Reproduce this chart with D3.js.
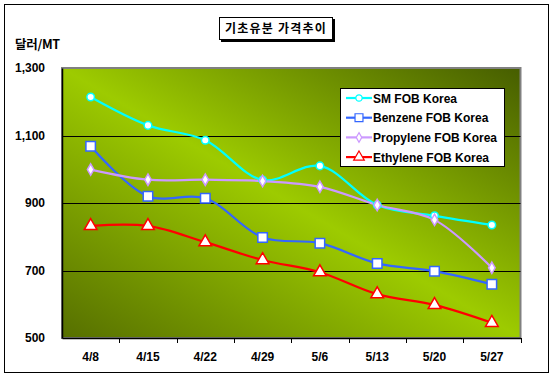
<!DOCTYPE html>
<html><head><meta charset="utf-8">
<script src="https://cdn.jsdelivr.net/npm/d3@7"></script>
<style>body{margin:0;background:#fff}svg{display:block}</style>
</head><body>
<script>
const categories = ["4/8","4/15","4/22","4/29","5/6","5/13","5/20","5/27"];
const seriesNames = ["SM FOB Korea","Benzene FOB Korea","Propylene FOB Korea","Ethylene FOB Korea"];
const smValues = [1214,1130,1086,968,1010,894,862,835];
const benzeneValues = [1068,920,914,798,781,721,698,659];
const propyleneValues = [999,969,969,965,948,894,850,708];
const ethyleneValues = [832,832,784,731,695,630,598,545];
const yTicks = [500,700,900,1100,1300];
const title = "기초유분 가격추이";
const unitLabel = "달러/MT";

const W = 554, H = 378;
const svg = d3.select("body").append("svg").attr("width", W).attr("height", H);
const defs = svg.append("defs");
const grad = defs.append("linearGradient").attr("id","bg")
  .attr("x1","0").attr("y1","1").attr("x2","1").attr("y2","0");
grad.append("stop").attr("offset","0").attr("stop-color","#566f00");
grad.append("stop").attr("offset","0.5").attr("stop-color","#9dcb00");
grad.append("stop").attr("offset","1").attr("stop-color","#465d00");

// outer border
svg.append("rect").attr("x",4.5).attr("y",4.5).attr("width",544).attr("height",368)
  .attr("fill","#fff").attr("stroke","#000").attr("stroke-width",1);

const m = {left:62, top:68, right:520.5, bottom:338};
const x = d3.scaleBand().domain(categories).range([m.left, m.right]);
const y = d3.scaleLinear().domain([500,1300]).range([m.bottom, m.top]);

svg.append("rect").attr("x",m.left).attr("y",m.top).attr("width",m.right-m.left).attr("height",m.bottom-m.top)
  .attr("fill","url(#bg)").attr("stroke","#808080").attr("stroke-width",2);

// gridlines
svg.append("g").selectAll("line").data(yTicks.slice(1,-1)).join("line")
  .attr("x1",m.left).attr("x2",m.right).attr("y1",d=>Math.round(y(d))+0.5).attr("y2",d=>Math.round(y(d))+0.5)
  .attr("stroke","#000").attr("stroke-width",1);

// axes
const yAxis = d3.axisLeft(y).tickValues(yTicks).tickSize(0).tickPadding(17).tickFormat(d3.format(","));
const gy = svg.append("g").attr("transform",`translate(${m.left},0)`).call(yAxis);
gy.select(".domain").attr("stroke","#000").attr("stroke-width",1.5);
gy.selectAll("text").attr("font-family","Liberation Sans, Arial, sans-serif").attr("font-weight","bold").attr("font-size",12).attr("fill","#000");

const xAxis = d3.axisBottom(x).tickSize(0).tickPadding(14);
const gx = svg.append("g").attr("transform",`translate(0,${m.bottom})`).call(xAxis);
gx.select(".domain").attr("stroke","#000").attr("stroke-width",1.5);
gx.selectAll("text").attr("font-family","Liberation Sans, Arial, sans-serif").attr("font-weight","bold").attr("font-size",12).attr("fill","#000");
// boundary ticks
const tickPos = categories.map(c=>x(c)).concat([m.right]);
svg.append("g").selectAll("line").data(tickPos.slice(1)).join("line")
  .attr("x1",d=>Math.round(d)+0.5).attr("x2",d=>Math.round(d)+0.5).attr("y1",m.bottom).attr("y2",m.bottom+5)
  .attr("stroke","#000");

const series = [
  {name:seriesNames[0], values:smValues, color:"#00ffff", marker:"circle"},
  {name:seriesNames[1], values:benzeneValues, color:"#3366ff", marker:"square"},
  {name:seriesNames[2], values:propyleneValues, color:"#cc99ff", marker:"diamond"},
  {name:seriesNames[3], values:ethyleneValues, color:"#ff0000", marker:"triangle"}
];
const symbolType = {circle:d3.symbolCircle, square:d3.symbolSquare, diamond:d3.symbolDiamond, triangle:d3.symbolTriangle};
const symbolSize = {circle:45, square:90, diamond:38, triangle:70};
const cx = c => x(c) + x.bandwidth()/2;
const line = d3.line().x((d,i)=>cx(categories[i])).y(d=>y(d)).curve(d3.curveCatmullRom.alpha(0.5));

series.forEach(s=>{
  svg.append("path").datum(s.values).attr("d",line).attr("fill","none")
    .attr("stroke",s.color).attr("stroke-width",2.2);
});
series.forEach(s=>{
  svg.append("g").selectAll("path").data(s.values).join("path")
    .attr("transform",(d,i)=>`translate(${cx(categories[i])},${y(d)})`)
    .attr("d",d3.symbol().type(symbolType[s.marker]).size(symbolSize[s.marker]))
    .attr("fill","#fff").attr("stroke",s.color).attr("stroke-width",1.5);
});

// legend
const lg = svg.append("g");
lg.append("rect").attr("x",340.5).attr("y",88.5).attr("width",164).attr("height",78)
  .attr("fill","#fff").attr("stroke","#000");
series.forEach((s,i)=>{
  const ly = 98 + i*19.7;
  lg.append("line").attr("x1",346).attr("x2",372).attr("y1",ly).attr("y2",ly).attr("stroke",s.color).attr("stroke-width",2.2);
  lg.append("path").attr("transform",`translate(359,${ly})`)
    .attr("d",d3.symbol().type(symbolType[s.marker]).size(symbolSize[s.marker]*0.7))
    .attr("fill","#fff").attr("stroke",s.color).attr("stroke-width",1.2);
  lg.append("text").attr("x",373).attr("y",ly+4.5).text(s.name)
    .attr("font-family","Liberation Sans, Arial, sans-serif").attr("font-weight","bold").attr("font-size",12).attr("fill","#000");
});

// title
svg.append("rect").attr("x",221).attr("y",19).attr("width",114).attr("height",23).attr("fill","#000");
svg.append("rect").attr("x",219.5).attr("y",17.5).attr("width",113).attr("height",22).attr("fill","#fff").attr("stroke","#000");
svg.append("text").attr("x",276).attr("y",33).attr("text-anchor","middle").text(title)
  .attr("font-family","Noto Sans CJK KR, sans-serif").attr("font-weight","bold").attr("font-size",12).attr("letter-spacing",1.2).attr("fill","#000");

svg.append("text").attr("x",15).attr("y",49).text(unitLabel)
  .attr("font-family","Noto Sans CJK KR, Liberation Sans, sans-serif").attr("font-weight","bold").attr("font-size",12.5).attr("letter-spacing",-0.3).attr("fill","#000");
</script>
</body></html>
